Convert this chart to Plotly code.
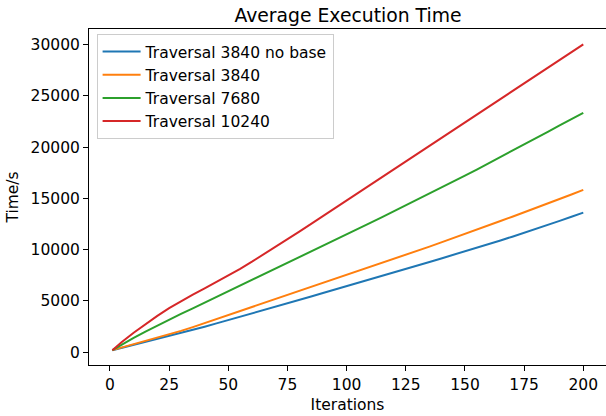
import plotly.graph_objects as go

iterations = [1, 5, 10, 15, 20, 25, 30, 35, 40, 45, 50, 55, 60, 65, 70, 75, 80, 85, 90, 95, 100,
              105, 110, 115, 120, 125, 130, 135, 140, 145, 150, 155, 160, 165, 170, 175, 180,
              185, 190, 195, 200]

t3840_nobase = [200, 430, 720, 1010, 1290, 1570, 1870, 2180, 2490, 2810, 3130, 3450, 3760, 4080,
                4410, 4750, 5100, 5430, 5770, 6100, 6420, 6760, 7100, 7450, 7780, 8120, 8460,
                8800, 9150, 9490, 9820, 10180, 10540, 10900, 11270, 11640, 12020, 12410, 12810,
                13210, 13620]

t3840 = [200, 450, 760, 1070, 1380, 1720, 2080, 2450, 2840, 3240, 3650, 4066, 4450, 4830, 5200,
         5580, 5980, 6380, 6780, 7180, 7570, 7950, 8330, 8720, 9100, 9480, 9880, 10300, 10720,
         11150, 11570, 11980, 12390, 12800, 13220, 13640, 14070, 14500, 14940, 15380, 15833]

t7680 = [200, 760, 1400, 2010, 2600, 3170, 3730, 4280, 4830, 5380, 5940, 6500, 7050, 7600, 8150,
         8700, 9250, 9810, 10370, 10930, 11490, 12050, 12610, 13170, 13740, 14310, 14880, 15460,
         16040, 16630, 17220, 17820, 18420, 19030, 19640, 20260, 20880, 21500, 22130, 22740, 23340]

t10240 = [200, 1000, 1900, 2750, 3550, 4300, 4980, 5620, 6230, 6840, 7470, 8130, 8830, 9550,
          10280, 11020, 11770, 12520, 13280, 14050, 14820, 15580, 16340, 17100, 17860, 18620,
          19380, 20140, 20900, 21650, 22400, 23160, 23920, 24680, 25440, 26200, 26960, 27720,
          28480, 29250, 30031]

series = [
    ("Traversal 3840 no base", t3840_nobase, "#1f77b4"),
    ("Traversal 3840", t3840, "#ff7f0e"),
    ("Traversal 7680", t7680, "#2ca02c"),
    ("Traversal 10240", t10240, "#d62728"),
]

x_ticks = [0, 25, 50, 75, 100, 125, 150, 175, 200]
x_tick_labels = ["0", "25", "50", "75", "100", "125", "150", "175", "200"]
y_ticks = [0, 5000, 10000, 15000, 20000, 25000, 30000]
y_tick_labels = ["0", "5000", "10000", "15000", "20000", "25000", "30000"]

FONT = "DejaVu Sans"

fig = go.Figure()
for name, vals, color in series:
    fig.add_trace(go.Scatter(x=iterations, y=vals, mode="lines", name=name,
                             line=dict(color=color, width=2)))

fig.update_layout(
    width=606, height=416,
    margin=dict(l=89, r=0, t=29, b=51),
    paper_bgcolor="white", plot_bgcolor="white",
    font=dict(family=FONT, size=15.5, color="black"),
    title=dict(text="Average Execution Time", x=348 / 606, xanchor="center",
               y=1 - 15 / 416, yanchor="middle", font=dict(size=18.8, family=FONT)),
    showlegend=True,
    legend=dict(x=0.0147, y=0.985, xanchor="left", yanchor="top", itemwidth=38,
                bordercolor="#cccccc", borderwidth=1, bgcolor="rgba(255,255,255,0.8)",
                font=dict(size=15.5, family=FONT)),
)
fig.update_xaxes(range=[-8.87, 209.6], tickvals=x_ticks, ticktext=x_tick_labels,
                 ticks="outside", ticklen=5, automargin=False,
                 tickcolor="black", showline=True, linecolor="black", linewidth=1,
                 mirror=True, showgrid=False, zeroline=False,
                 title=dict(text="Iterations", standoff=6, font=dict(size=15.5)))
fig.update_yaxes(range=[-1248, 31531], tickvals=y_ticks, ticktext=y_tick_labels,
                 ticks="outside", ticklen=5, automargin=False,
                 tickcolor="black", showline=True, linecolor="black", linewidth=1,
                 showgrid=False, zeroline=False,
                 title=dict(text="Time/s", standoff=8, font=dict(size=15.5)))

fig.write_html("out.html", config={"displayModeBar": False},
               post_script="document.body.style.margin='0';document.body.style.overflow='hidden';")
